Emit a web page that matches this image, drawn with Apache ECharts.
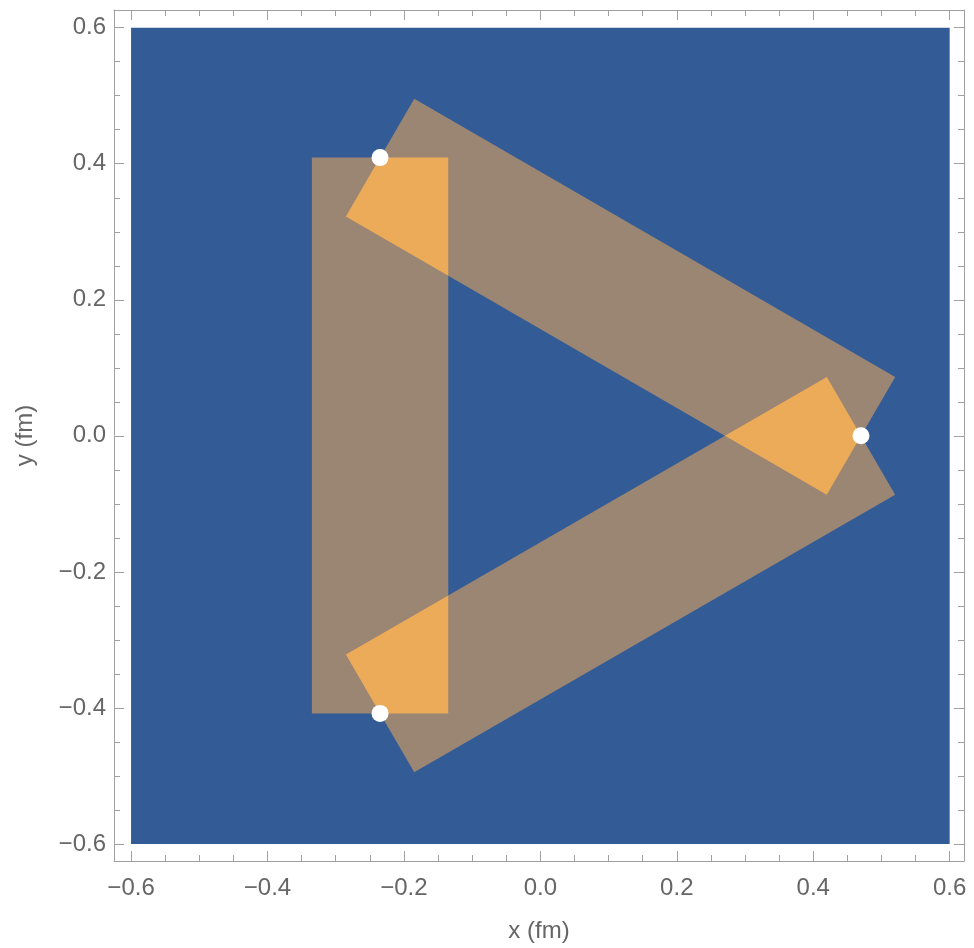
<!DOCTYPE html>
<html>
<head>
<meta charset="utf-8">
<script src="https://cdn.jsdelivr.net/npm/echarts@6/dist/echarts.min.js"></script>
<style>
  html, body { margin: 0; padding: 0; background: #ffffff; }
  #chart { width: 974px; height: 948px; }
</style>
</head>
<body>
<div id="chart"></div>
<script>
// Quark positions (fm)
const quarkX = [0.47, -0.235, -0.235];
const quarkY = [0.0, 0.409, -0.408];
// Flux tubes join pairs of quarks (indices into the arrays above)
const tubePairs = [[1, 2], [1, 0], [2, 0]];
const tubeWidth = 0.2;
// Extent of the field region
const fieldX = [-0.6, 0.6];
const fieldY = [-0.6, 0.6];
// Axis ticks
const majorTicks = [-0.6, -0.4, -0.2, 0.0, 0.2, 0.4, 0.6];
const minorTicks = [-0.55, -0.5, -0.45, -0.35, -0.3, -0.25, -0.15, -0.1, -0.05,
                    0.05, 0.1, 0.15, 0.25, 0.3, 0.35, 0.45, 0.5, 0.55];

const COL_FIELD = '#335b95';
const COL_TUBE = '#9b8573';
const COL_OVERLAP = '#ebab59';
const COL_FRAME = '#a0a0a0';
const COL_TEXT = '#666666';
const FONT = 'Liberation Sans, Arial, sans-serif';

// Rectangle of a tube between two quarks, in data coordinates
function tubeRect(i, j) {
  const px = quarkX[i], py = quarkY[i], qx = quarkX[j], qy = quarkY[j];
  const len = Math.hypot(qx - px, qy - py);
  const nx = -(qy - py) / len * tubeWidth / 2;
  const ny = (qx - px) / len * tubeWidth / 2;
  return [[px + nx, py + ny], [qx + nx, qy + ny], [qx - nx, qy - ny], [px - nx, py - ny]];
}

function signedArea(poly) {
  let s = 0;
  for (let k = 0; k < poly.length; k++) {
    const a = poly[k], b = poly[(k + 1) % poly.length];
    s += a[0] * b[1] - b[0] * a[1];
  }
  return s / 2;
}

// Sutherland-Hodgman clipping of a polygon by a convex polygon
function clipPolygon(subject, clip) {
  const orient = Math.sign(signedArea(clip));
  let out = subject.slice();
  for (let k = 0; k < clip.length && out.length; k++) {
    const a = clip[k], b = clip[(k + 1) % clip.length];
    const side = p => orient * ((b[0] - a[0]) * (p[1] - a[1]) - (b[1] - a[1]) * (p[0] - a[0]));
    const input = out;
    out = [];
    for (let m = 0; m < input.length; m++) {
      const cur = input[m], prev = input[(m + input.length - 1) % input.length];
      const sc = side(cur), sp = side(prev);
      if (sc >= 0) {
        if (sp < 0) {
          const t = sp / (sp - sc);
          out.push([prev[0] + t * (cur[0] - prev[0]), prev[1] + t * (cur[1] - prev[1])]);
        }
        out.push(cur);
      } else if (sp >= 0) {
        const t = sp / (sp - sc);
        out.push([prev[0] + t * (cur[0] - prev[0]), prev[1] + t * (cur[1] - prev[1])]);
      }
    }
  }
  return out;
}

const tubePolys = tubePairs.map(p => tubeRect(p[0], p[1]));
const overlapPolys = [];
for (let a = 0; a < tubePolys.length; a++) {
  for (let b = a + 1; b < tubePolys.length; b++) {
    const poly = clipPolygon(tubePolys[a], tubePolys[b]);
    if (poly.length >= 3) overlapPolys.push(poly);
  }
}

const fmt = v => (v < 0 ? '\u2212' : '') + Math.abs(v).toFixed(1);

// Frame side: a major-tick axis (with line, optional labels) plus a minor-tick axis
function axisPair(dim, pos, withLabels) {
  const range = { min: -0.625, max: dim === 'x' ? 0.621 : 0.626 };
  const major = {
    type: 'value', position: pos, ...range,
    axisLine: { show: true, onZero: false, lineStyle: { color: COL_FRAME, width: 1 } },
    axisTick: { show: true, inside: true, length: 10, customValues: majorTicks,
                lineStyle: { color: COL_FRAME, width: 1 } },
    axisLabel: withLabels
      ? { show: true, customValues: majorTicks, formatter: fmt, color: COL_TEXT,
          fontSize: 24, fontFamily: FONT, margin: dim === 'x' ? 15 : 8 }
      : { show: false },
    splitLine: { show: false }
  };
  const minor = {
    type: 'value', position: pos, ...range,
    axisLine: { show: false, onZero: false },
    axisTick: { show: true, inside: true, length: 6, customValues: minorTicks,
                lineStyle: { color: COL_FRAME, width: 1 } },
    axisLabel: { show: false },
    splitLine: { show: false }
  };
  return [major, minor];
}

const xAxes = axisPair('x', 'bottom', true).concat(axisPair('x', 'top', false));
const yAxes = axisPair('y', 'left', true).concat(axisPair('y', 'right', false));
Object.assign(xAxes[0], {
  name: 'x (fm)', nameLocation: 'middle', nameGap: 58,
  nameTextStyle: { color: COL_TEXT, fontSize: 24, fontFamily: FONT }
});
Object.assign(yAxes[0], {
  name: 'y (fm)', nameLocation: 'middle', nameGap: 77, nameRotate: 90,
  nameTextStyle: { color: COL_TEXT, fontSize: 24, fontFamily: FONT }
});

function polySeries(polys, color) {
  return {
    type: 'custom', xAxisIndex: 0, yAxisIndex: 0, silent: true, clip: false,
    data: polys.map((_, i) => [i]),
    encode: { x: 0, y: 0 },
    renderItem: (params, api) => {
      const poly = polys[params.dataIndex];
      return {
        type: 'polygon',
        shape: { points: poly.map(p => api.coord(p)) },
        style: { fill: color, stroke: null }
      };
    }
  };
}

const chart = echarts.init(document.getElementById('chart'), null, { renderer: 'canvas' });
chart.setOption({
  animation: false,
  backgroundColor: '#ffffff',
  grid: { left: 114, top: 10, width: 850, height: 852, containLabel: false },
  xAxis: xAxes,
  yAxis: yAxes,
  series: [
    {
      type: 'custom', xAxisIndex: 0, yAxisIndex: 0, silent: true, clip: false,
      data: [[0]],
      encode: { x: 0, y: 0 },
      renderItem: (params, api) => {
        const p0 = api.coord([fieldX[0], fieldY[1]]);
        const p1 = api.coord([fieldX[1], fieldY[0]]);
        return {
          type: 'rect',
          shape: { x: p0[0], y: p0[1], width: p1[0] - p0[0], height: p1[1] - p0[1] },
          style: { fill: COL_FIELD }
        };
      }
    },
    polySeries(tubePolys, COL_TUBE),
    polySeries(overlapPolys, COL_OVERLAP),
    {
      type: 'scatter', xAxisIndex: 0, yAxisIndex: 0, silent: true,
      data: quarkX.map((x, i) => [x, quarkY[i]]),
      symbol: 'circle', symbolSize: 17,
      itemStyle: { color: '#ffffff', opacity: 1 },
      z: 5
    }
  ]
});
</script>
</body>
</html>
